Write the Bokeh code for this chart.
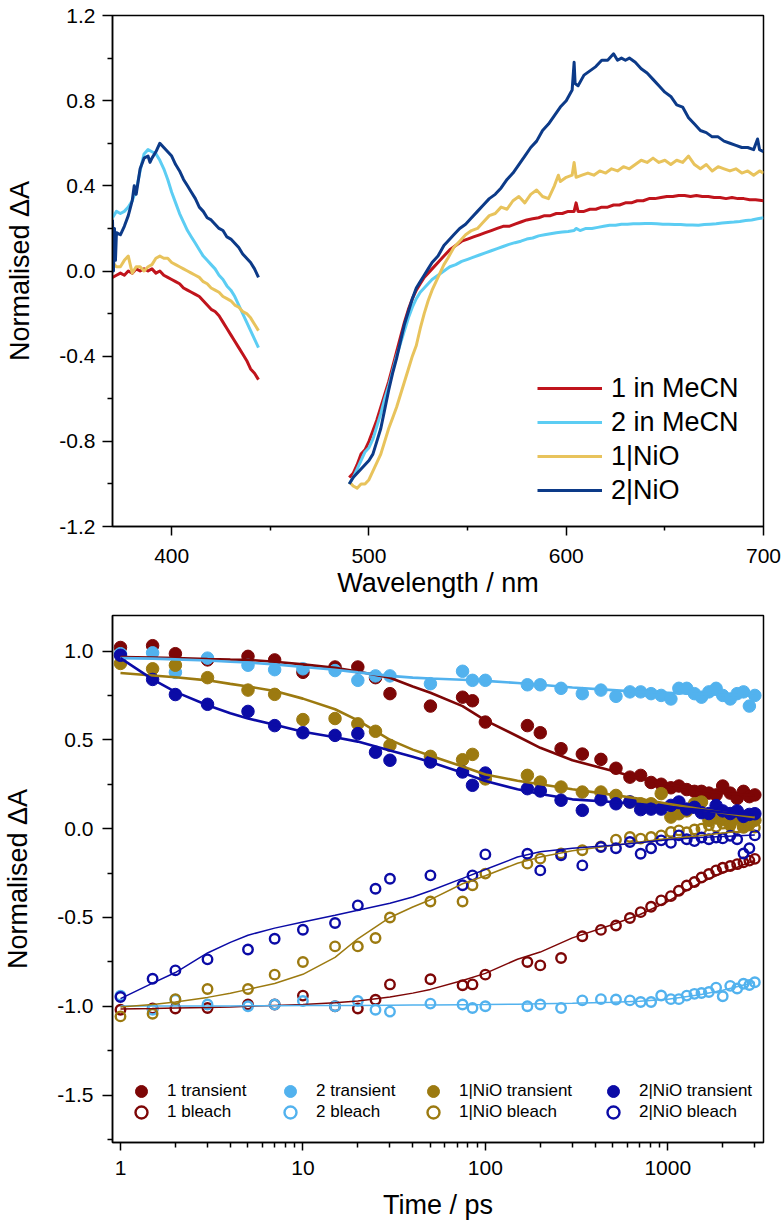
import math
from bokeh.plotting import figure
from bokeh.layouts import column
from bokeh.models import (Range1d, FixedTicker, NumeralTickFormatter, CustomJSTickFormatter,
                          Legend, LegendItem)
from bokeh.embed import file_html
from bokeh.resources import INLINE

FONT = "Liberation Sans"

# ---------------- top panel: spectra (wavelength nm, normalised dA) ----------------
WL_UV = list(range(370, 446, 2))
RED_UV = [-0.03, -0.02, -0.01, -0.02, 0.0, -0.01, 0.01, 0.0, 0.01, 0.0,
          0.01, -0.01, 0.0, -0.02, -0.03, -0.04, -0.05, -0.06, -0.08, -0.09,
          -0.10, -0.11, -0.12, -0.14, -0.16, -0.18, -0.19, -0.21, -0.24, -0.27,
          -0.30, -0.33, -0.36, -0.39, -0.42, -0.46, -0.48, -0.51]
CYAN_UV = [0.25, 0.28, 0.27, 0.28, 0.30, 0.33, 0.38, 0.47, 0.55, 0.57,
           0.56, 0.55, 0.52, 0.48, 0.43, 0.37, 0.32, 0.27, 0.23, 0.19,
           0.16, 0.13, 0.10, 0.07, 0.05, 0.03, 0.01, -0.02, -0.04, -0.07,
           -0.09, -0.12, -0.16, -0.20, -0.24, -0.28, -0.32, -0.36]
YEL_UV = [0.04, 0.02, 0.02, 0.05, 0.07, -0.01, 0.02, 0.02, 0.0, 0.02,
          0.03, 0.06, 0.07, 0.06, 0.06, 0.04, 0.03, 0.02, 0.01, 0.0,
          -0.01, -0.02, -0.03, -0.05, -0.06, -0.08, -0.09, -0.10, -0.12, -0.13,
          -0.14, -0.16, -0.17, -0.19, -0.20, -0.22, -0.25, -0.28]
NAVY_UV = [(370, 0.24), (370.5, 0.0), (371, 0.2), (371.5, 0.05), (372, 0.18), (374, 0.17),
           (376, 0.21), (378, 0.26), (380, 0.33), (381, 0.40), (382, 0.36), (384, 0.48),
           (386, 0.53), (388, 0.54), (389, 0.51), (390, 0.53), (392, 0.56), (394, 0.60),
           (396, 0.58), (398, 0.56), (400, 0.54), (402, 0.50), (404, 0.47), (406, 0.43),
           (408, 0.40), (410, 0.37), (412, 0.34), (414, 0.30), (416, 0.28), (418, 0.25),
           (420, 0.24), (422, 0.22), (424, 0.20), (426, 0.19), (428, 0.16), (430, 0.15),
           (432, 0.13), (434, 0.11), (436, 0.08), (438, 0.06), (440, 0.04), (442, 0.01),
           (444, -0.03)]

RED_VIS = [(490, -0.97), (492, -0.95), (494, -0.91), (496, -0.86), (498, -0.84), (500, -0.80),
           (502, -0.75), (504, -0.70), (506, -0.64), (508, -0.58), (510, -0.52), (512, -0.45),
           (514, -0.38), (516, -0.31), (518, -0.24), (520, -0.18), (522, -0.13), (524, -0.09),
           (526, -0.06), (528, -0.03), (530, -0.01), (532, 0.01), (535, 0.04), (538, 0.07),
           (541, 0.10), (544, 0.12), (547, 0.14), (550, 0.15), (553, 0.16), (556, 0.17),
           (559, 0.18), (562, 0.19), (565, 0.20), (568, 0.21), (571, 0.21), (574, 0.22),
           (577, 0.23), (580, 0.24), (583, 0.245), (586, 0.25), (589, 0.26), (592, 0.26),
           (595, 0.27), (598, 0.27), (601, 0.28), (604, 0.28), (605, 0.32), (606, 0.28),
           (609, 0.28), (612, 0.29), (615, 0.29), (618, 0.30), (621, 0.30), (624, 0.31),
           (627, 0.31), (630, 0.32), (633, 0.32), (636, 0.33), (639, 0.33), (642, 0.34),
           (645, 0.34), (648, 0.345), (651, 0.35), (654, 0.35), (657, 0.355), (660, 0.355),
           (663, 0.35), (666, 0.355), (669, 0.35), (672, 0.35), (675, 0.345), (678, 0.345),
           (681, 0.34), (684, 0.345), (687, 0.34), (690, 0.34), (693, 0.335), (696, 0.335),
           (700, 0.33)]
CYAN_VIS = [(490, -1.00), (492, -0.97), (494, -0.93), (496, -0.89), (498, -0.85), (500, -0.83),
            (502, -0.79), (504, -0.73), (506, -0.67), (508, -0.60), (510, -0.54), (512, -0.47),
            (514, -0.40), (516, -0.34), (518, -0.28), (520, -0.22), (522, -0.17), (524, -0.13),
            (526, -0.10), (528, -0.08), (530, -0.06), (532, -0.04), (535, -0.02), (538, 0.0),
            (541, 0.02), (544, 0.03), (547, 0.045), (550, 0.055), (553, 0.065), (556, 0.075),
            (559, 0.085), (562, 0.095), (565, 0.105), (568, 0.115), (571, 0.125), (574, 0.133),
            (577, 0.14), (580, 0.15), (583, 0.155), (586, 0.165), (589, 0.17), (592, 0.175),
            (595, 0.18), (598, 0.183), (601, 0.186), (604, 0.19), (605, 0.2), (607, 0.19),
            (610, 0.2), (613, 0.2), (616, 0.205), (619, 0.21), (622, 0.215), (625, 0.215),
            (628, 0.22), (631, 0.22), (634, 0.222), (637, 0.222), (640, 0.223), (643, 0.223),
            (646, 0.222), (649, 0.22), (652, 0.22), (655, 0.218), (658, 0.218), (661, 0.216),
            (664, 0.216), (667, 0.215), (670, 0.218), (673, 0.22), (676, 0.222), (679, 0.225),
            (682, 0.228), (685, 0.23), (688, 0.233), (691, 0.237), (694, 0.24), (697, 0.245),
            (700, 0.25)]
YEL_VIS = [(490, -0.99), (492, -1.01), (494, -1.02), (496, -1.00), (498, -1.00), (500, -0.98),
           (502, -0.94), (504, -0.90), (506, -0.86), (508, -0.80), (510, -0.74), (512, -0.69),
           (514, -0.64), (516, -0.58), (518, -0.52), (520, -0.46), (522, -0.40), (524, -0.35),
           (526, -0.27), (528, -0.20), (530, -0.14), (532, -0.09), (534, -0.05), (536, -0.01),
           (538, 0.03), (540, 0.06), (543, 0.11), (546, 0.14), (549, 0.17), (552, 0.19),
           (555, 0.20), (558, 0.23), (561, 0.26), (564, 0.27), (567, 0.30), (570, 0.29),
           (573, 0.33), (576, 0.35), (579, 0.32), (582, 0.36), (585, 0.38), (588, 0.35),
           (591, 0.34), (594, 0.40), (596, 0.45), (597, 0.42), (600, 0.44), (603, 0.45),
           (604, 0.51), (605, 0.44), (608, 0.45), (611, 0.46), (614, 0.45), (617, 0.47),
           (620, 0.46), (623, 0.48), (626, 0.47), (629, 0.49), (632, 0.48), (635, 0.50),
           (638, 0.52), (641, 0.51), (644, 0.53), (647, 0.51), (650, 0.52), (653, 0.50),
           (656, 0.52), (659, 0.51), (662, 0.54), (665, 0.50), (668, 0.48), (671, 0.50),
           (674, 0.47), (677, 0.49), (680, 0.48), (683, 0.47), (686, 0.48), (689, 0.46),
           (692, 0.47), (695, 0.45), (698, 0.47), (700, 0.46)]
NAVY_VIS = [(490, -1.00), (492, -0.97), (494, -0.95), (496, -0.93), (498, -0.91), (500, -0.89),
            (502, -0.86), (504, -0.80), (506, -0.74), (508, -0.65), (510, -0.56), (512, -0.48),
            (514, -0.41), (516, -0.33), (518, -0.25), (520, -0.19), (522, -0.13), (524, -0.08),
            (526, -0.05), (528, -0.02), (530, 0.01), (532, 0.04), (535, 0.07), (538, 0.12),
            (540, 0.14), (543, 0.17), (546, 0.20), (549, 0.22), (552, 0.25), (555, 0.28),
            (558, 0.31), (561, 0.34), (564, 0.36), (567, 0.39), (570, 0.43), (573, 0.46),
            (576, 0.50), (579, 0.54), (582, 0.58), (585, 0.61), (588, 0.66), (591, 0.69),
            (594, 0.73), (597, 0.77), (600, 0.80), (603, 0.85), (604, 0.98), (604.5, 0.88),
            (606, 0.87), (609, 0.92), (612, 0.94), (615, 0.96), (618, 0.99), (621, 0.99),
            (624, 1.02), (626, 0.99), (628, 1.00), (630, 0.99), (632, 1.00), (635, 0.98),
            (638, 0.95), (641, 0.93), (644, 0.90), (647, 0.87), (650, 0.84), (653, 0.82),
            (656, 0.78), (659, 0.77), (662, 0.72), (665, 0.69), (668, 0.66), (671, 0.65),
            (674, 0.63), (677, 0.63), (680, 0.61), (683, 0.60), (686, 0.59), (689, 0.58),
            (692, 0.58), (695, 0.57), (697, 0.62), (698, 0.57), (700, 0.56)]

SPEC_NAMES = ["1 in MeCN", "2 in MeCN", "1|NiO", "2|NiO"]
SPEC_COLORS = ["#c0141c", "#5ccdf3", "#e8c35c", "#0c3a88"]

# ---------------- bottom panel: kinetics ----------------
T = [1, 1.5, 2, 3, 5, 7, 10, 15, 20, 25, 30, 50, 75, 85, 100, 170, 200, 260, 340, 430,
     520, 620, 710, 810, 920, 1040, 1150, 1270, 1400, 1530, 1680, 1840, 2000, 2200, 2400,
     2600, 2800, 3000]
S1_TR = [1.02, 1.03, 0.985, 0.95, 0.97, 0.95, 0.88, 0.91, 0.91, 0.85,
         0.76, 0.69, 0.74, 0.72, 0.60, 0.58, 0.54, 0.45, 0.42, 0.39,
         0.34, 0.29, 0.30, 0.26, 0.25, 0.23, 0.24, 0.22, 0.21, 0.21,
         0.20, 0.19, 0.24, 0.20, 0.17, 0.21, 0.18, 0.19]
S2_TR = [0.985, 0.99, 0.88, 0.96, 0.92, 0.895, 0.90, 0.89, 0.835, 0.86,
         0.86, 0.816, 0.886, 0.835, 0.835, 0.81, 0.81, 0.79, 0.76, 0.78,
         0.745, 0.77, 0.77, 0.76, 0.75, 0.73, 0.79, 0.79, 0.76, 0.74,
         0.77, 0.79, 0.75, 0.73, 0.76, 0.77, 0.69, 0.75]
S3_TR = [0.93, 0.90, 0.92, 0.85, 0.78, 0.756, 0.614, 0.62, 0.59, 0.548,
         0.469, 0.407, 0.388, 0.418, 0.28, 0.30, 0.262, 0.234, 0.206, 0.206,
         0.187, 0.15, 0.14, 0.14, 0.197, 0.065, 0.084, 0.10, 0.14, 0.15,
         0.047, 0.06, 0.05, 0.028, 0.06, 0.009, 0.03, 0.047]
S4_TR = [0.976, 0.84, 0.755, 0.70, 0.66, 0.58, 0.54, 0.525, 0.535, 0.43,
         0.385, 0.375, 0.319, 0.244, 0.313, 0.225, 0.212, 0.16, 0.103, 0.163,
         0.14, 0.15, 0.107, 0.11, 0.11, 0.131, 0.15, 0.11, 0.12, 0.09,
         0.085, 0.13, 0.10, 0.085, 0.10, 0.069, 0.08, 0.084]
S1_BL = [-1.02, -1.013, -1.013, -1.01, -0.99, -0.99, -0.94, -1.0, -1.013, -0.963,
         -0.877, -0.848, -0.882, -0.877, -0.822, -0.751, -0.77, -0.728, -0.606, -0.57,
         -0.545, -0.503, -0.47, -0.44, -0.404, -0.38, -0.35, -0.32, -0.30, -0.275,
         -0.255, -0.235, -0.22, -0.21, -0.20, -0.19, -0.18, -0.17]
S2_BL = [-0.94, -1.02, -0.963, -0.99, -1.0, -0.99, -0.97, -1.0, -0.97, -1.02,
         -1.03, -0.985, -0.99, -1.01, -1.0, -1.0, -0.99, -1.01, -0.967, -0.96,
         -0.962, -0.967, -0.976, -0.976, -0.939, -0.96, -0.96, -0.94, -0.93, -0.925,
         -0.92, -0.895, -0.944, -0.885, -0.9, -0.873, -0.88, -0.865]
S3_BL = [-1.057, -1.042, -0.96, -0.903, -0.903, -0.822, -0.751, -0.663, -0.663, -0.616,
         -0.50, -0.41, -0.41, -0.319, -0.253, -0.197, -0.169, -0.14, -0.122, -0.10,
         -0.062, -0.047, -0.056, -0.047, -0.038, -0.019, -0.01, -0.02, -0.005, 0.0,
         0.019, 0.01, 0.028, 0.015, 0.005, 0.01, 0.02, 0.006]
S4_BL = [-0.948, -0.845, -0.798, -0.736, -0.68, -0.62, -0.569, -0.531, -0.432, -0.338,
         -0.282, -0.263, -0.319, -0.263, -0.145, -0.141, -0.235, -0.15, -0.207, -0.103,
         -0.11, -0.075, -0.141, -0.11, -0.066, -0.08, -0.038, -0.06, -0.07, -0.05,
         -0.06, -0.05, -0.055, -0.04, -0.06, -0.14, -0.11, -0.038]

FIT_T = [1, 1.5, 2, 3, 4, 5, 7, 10, 15, 20, 30, 40, 50, 75, 100, 150, 200, 300, 500, 700,
         1000, 1500, 2000, 3000]
F1_TR = [0.966, 0.963, 0.96, 0.955, 0.952, 0.95, 0.94, 0.925, 0.905, 0.885, 0.85, 0.80,
         0.765, 0.69, 0.61, 0.52, 0.455, 0.385, 0.325, 0.283, 0.25, 0.217, 0.20, 0.187]
F2_TR = [0.96, 0.957, 0.953, 0.947, 0.94, 0.935, 0.925, 0.91, 0.895, 0.88, 0.86, 0.85,
         0.845, 0.838, 0.832, 0.82, 0.81, 0.795, 0.78, 0.77, 0.765, 0.758, 0.753, 0.748]
F3_TR = [0.876, 0.862, 0.852, 0.835, 0.815, 0.80, 0.775, 0.732, 0.672, 0.61, 0.50, 0.445,
         0.41, 0.35, 0.305, 0.27, 0.25, 0.222, 0.19, 0.168, 0.14, 0.11, 0.09, 0.065]
F4_TR = [0.96, 0.84, 0.77, 0.695, 0.65, 0.62, 0.585, 0.545, 0.515, 0.49, 0.44, 0.405,
         0.375, 0.315, 0.268, 0.222, 0.195, 0.165, 0.15, 0.138, 0.122, 0.105, 0.092, 0.075]
F1_BL = [-1.015, -1.013, -1.01, -1.007, -1.004, -1.0, -0.995, -0.99, -0.98, -0.97, -0.948,
         -0.926, -0.905, -0.855, -0.815, -0.735, -0.695, -0.615, -0.54, -0.485, -0.41,
         -0.305, -0.25, -0.178]
F2_BL = [-0.998, -0.998, -0.998, -0.998, -0.998, -0.997, -0.997, -0.996, -0.996, -0.995,
         -0.994, -0.993, -0.993, -0.991, -0.99, -0.988, -0.986, -0.983, -0.978, -0.972,
         -0.96, -0.935, -0.91, -0.865]
F3_BL = [-1.004, -0.99, -0.976, -0.95, -0.927, -0.905, -0.872, -0.82, -0.725, -0.62, -0.50,
         -0.441, -0.40, -0.31, -0.265, -0.195, -0.16, -0.125, -0.095, -0.075, -0.055, -0.04,
         -0.025, -0.008]
F4_BL = [-0.957, -0.87, -0.81, -0.70, -0.64, -0.60, -0.56, -0.525, -0.488, -0.46, -0.42,
         -0.385, -0.35, -0.28, -0.23, -0.16, -0.13, -0.11, -0.094, -0.08, -0.062, -0.05,
         -0.044, -0.036]

KIN_NAMES = ["1", "2", "1|NiO", "2|NiO"]
KIN_COLORS = ["#7d0606", "#52b2ee", "#9c7a10", "#0b0ba6"]


def style_axes(p, xlabel, ylabel):
    for ax in (p.xaxis[0], p.yaxis[0]):
        ax.axis_line_color = "black"
        ax.axis_line_width = 1.5
        ax.major_tick_line_color = "black"
        ax.major_tick_line_width = 1.5
        ax.minor_tick_line_color = "black"
        ax.minor_tick_line_width = 1.5
        ax.major_tick_in = 0
        ax.minor_tick_in = 0
        ax.major_tick_out = 10
        ax.minor_tick_out = 5
        ax.major_label_text_font = FONT
        ax.major_label_text_font_size = "21px"
        ax.major_label_text_color = "black"
        ax.axis_label_text_font = FONT
        ax.axis_label_text_font_size = "27px"
        ax.axis_label_text_font_style = "normal"
        ax.axis_label_text_color = "black"
    p.xaxis.axis_label = xlabel
    p.yaxis.axis_label = ylabel
    p.xgrid.visible = False
    p.ygrid.visible = False
    p.outline_line_color = "black"
    p.outline_line_width = 1.5
    p.outline_line_alpha = 1.0
    p.background_fill_color = "white"
    p.border_fill_color = "white"


# ---------------- top figure ----------------
p1 = figure(width=781, height=606, x_range=Range1d(370, 700), y_range=Range1d(-1.2, 1.2),
            output_backend="svg", toolbar_location=None,
            min_border_left=110, min_border_right=18, min_border_top=15, min_border_bottom=80)
style_axes(p1, "Wavelength / nm", "Normalised \u0394A")
p1.xaxis.ticker = FixedTicker(ticks=[400, 500, 600, 700], minor_ticks=[450, 550, 650])
p1.yaxis.ticker = FixedTicker(ticks=[-1.2, -0.8, -0.4, 0.0, 0.4, 0.8, 1.2],
                              minor_ticks=[-1.0, -0.6, -0.2, 0.2, 0.6, 1.0])
p1.yaxis.formatter = NumeralTickFormatter(format="0.0")
p1.xaxis.major_tick_out = 9
p1.xaxis.minor_tick_out = 4
p1.xaxis.major_label_standoff = 13
p1.xaxis.axis_label_standoff = 2
p1.yaxis.major_label_standoff = 7
p1.yaxis.axis_label_standoff = 21

uv_sets = [list(zip(WL_UV, RED_UV)), list(zip(WL_UV, CYAN_UV)), list(zip(WL_UV, YEL_UV)), NAVY_UV]
vis_sets = [RED_VIS, CYAN_VIS, YEL_VIS, NAVY_VIS]
spec_items = []
for name, col, uv, vis in zip(SPEC_NAMES, SPEC_COLORS, uv_sets, vis_sets):
    xs = [a for a, b in uv] + [float("nan")] + [a for a, b in vis]
    ys = [b for a, b in uv] + [float("nan")] + [b for a, b in vis]
    r = p1.line(xs, ys, line_color=col, line_width=3, line_join="round")
    spec_items.append(LegendItem(label=name, renderers=[r]))

leg1 = Legend(items=spec_items, location=(425, 19), padding=0, margin=0, spacing=0,
              glyph_width=65, glyph_height=34, label_height=34, label_standoff=9,
              label_text_font=FONT, label_text_font_size="27px", label_text_color="black",
              border_line_alpha=0, background_fill_alpha=0)
p1.add_layout(leg1)

# ---------------- bottom figure ----------------
x_lo = 10 ** (-8 / 183.0)
x_hi = 10 ** (645 / 183.0)
p2 = figure(width=781, height=621, x_axis_type="log", x_range=Range1d(x_lo, x_hi),
            y_range=Range1d(-1.767, 1.2), output_backend="svg", toolbar_location=None,
            min_border_left=110, min_border_right=18, min_border_top=9, min_border_bottom=85)
style_axes(p2, "Time / ps", "Normalised \u0394A")
p2.xaxis.ticker = FixedTicker(ticks=[1, 10, 100, 1000],
                              minor_ticks=[2, 3, 4, 5, 6, 7, 8, 9, 20, 30, 40, 50, 60, 70, 80, 90,
                                           200, 300, 400, 500, 600, 700, 800, 900, 2000, 3000])
p2.xaxis.formatter = CustomJSTickFormatter(code="return String(Math.round(tick));")
p2.yaxis.ticker = FixedTicker(ticks=[-1.5, -1.0, -0.5, 0.0, 0.5, 1.0],
                              minor_ticks=[-1.75, -1.25, -0.75, -0.25, 0.25, 0.75])
p2.yaxis.formatter = NumeralTickFormatter(format="0.0")
p2.xaxis.major_tick_out = 8
p2.xaxis.minor_tick_out = 5
p2.xaxis.major_label_standoff = 10
p2.xaxis.axis_label_standoff = 12
p2.yaxis.major_label_standoff = 9
p2.yaxis.axis_label_standoff = 21

tr_sets = [S1_TR, S2_TR, S3_TR, S4_TR]
bl_sets = [S1_BL, S2_BL, S3_BL, S4_BL]
ftr_sets = [F1_TR, F2_TR, F3_TR, F4_TR]
fbl_sets = [F1_BL, F2_BL, F3_BL, F4_BL]

tr_r, bl_r = [], []
for col, tr, bl in zip(KIN_COLORS, tr_sets, bl_sets):
    tr_r.append(p2.scatter(T, tr, size=12.5, fill_color=col, line_color=col, line_width=1))
    bl_r.append(p2.scatter(T, bl, size=9.5, fill_alpha=0, line_color=col, line_width=2.4))
for col, ftr, fbl in zip(KIN_COLORS, ftr_sets, fbl_sets):
    p2.line(FIT_T, ftr, line_color=col, line_width=2.6)
    p2.line(FIT_T, fbl, line_color=col, line_width=1.5)

leg_x = [14, 163, 306, 486]
for name, x0, rt, rb in zip(KIN_NAMES, leg_x, tr_r, bl_r):
    for label, rend, y0 in ((name + " transient", rt, 36), (name + " bleach", rb, 15)):
        lg = Legend(items=[LegendItem(label=label, renderers=[rend])],
                    location=(x0, y0), padding=0, margin=0, spacing=0,
                    glyph_width=30, glyph_height=30, label_height=21, label_standoff=11,
                    label_text_font=FONT, label_text_font_size="17px", label_text_color="black",
                    border_line_alpha=0, background_fill_alpha=0)
        p2.add_layout(lg)

layout = column(p1, p2, spacing=0)
open("out.html", "w").write(file_html(layout, INLINE))
